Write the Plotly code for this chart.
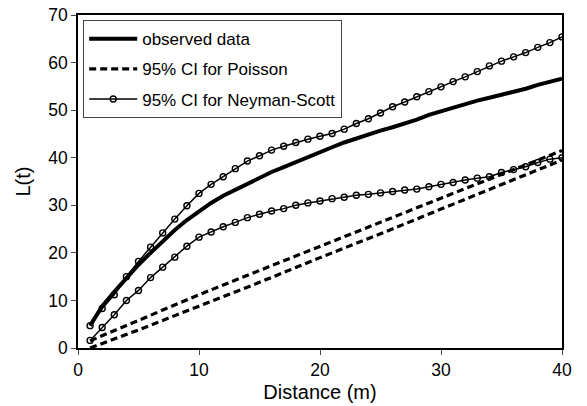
import plotly.graph_objects as go

# Data
dist = list(range(1, 41))
observed = [4.7, 8.8, 11.8, 14.8, 17.5, 20.0, 22.5, 24.8, 26.9, 28.8,
            30.5, 32.0, 33.3, 34.6, 35.8, 37.0, 38.0, 39.1, 40.2, 41.2,
            42.2, 43.2, 44.1, 45.0, 45.7, 46.4, 47.1, 48.0, 49.0, 49.8,
            50.5, 51.2, 52.0, 52.6, 53.2, 53.8, 54.5, 55.3, 56.0, 56.6]
ns_upper = [4.7, 8.3, 11.2, 15.0, 18.2, 21.2, 24.2, 27.1, 29.9, 32.5,
            34.4, 36.0, 37.7, 39.3, 40.4, 41.6, 42.4, 43.2, 43.9, 44.5,
            45.1, 46.0, 47.2, 48.2, 49.4, 50.7, 51.7, 52.8, 53.9, 54.9,
            56.0, 57.0, 58.1, 59.3, 60.3, 61.2, 62.1, 63.2, 64.2, 65.4]
ns_lower = [1.6, 4.3, 7.0, 10.0, 12.1, 14.8, 17.0, 19.1, 21.4, 23.3,
            24.4, 25.5, 26.4, 27.4, 28.1, 28.8, 29.3, 30.0, 30.5, 30.9,
            31.4, 31.7, 32.1, 32.3, 32.6, 32.9, 33.2, 33.4, 33.9, 34.4,
            34.8, 35.3, 35.7, 36.0, 36.9, 37.5, 38.1, 39.0, 39.7, 40.0]
pois_x = [1, 5, 10, 15, 20, 25, 30, 35, 40]
pois_upper = [1.5, 5.8, 11.2, 16.3, 21.4, 26.5, 31.5, 36.5, 41.5]
pois_lower = [0.0, 3.8, 8.8, 13.8, 19.0, 24.0, 29.2, 34.4, 39.5]

x_ticks = [0, 10, 20, 30, 40]
y_ticks = [0, 10, 20, 30, 40, 50, 60, 70]

FONT = "Liberation Sans, Arial, Helvetica, sans-serif"

marker_style = dict(symbol="circle-open", size=6, color="black", line=dict(width=1.4))

fig = go.Figure()
fig.add_trace(go.Scatter(x=dist, y=observed, mode="lines", name="observed data",
                         line=dict(color="black", width=4), legendgroup="a"))
fig.add_trace(go.Scatter(x=pois_x, y=pois_upper, mode="lines", name="95% CI for Poisson",
                         line=dict(color="black", width=3.2, dash="7px,4px"), legendgroup="b"))
fig.add_trace(go.Scatter(x=pois_x, y=pois_lower, mode="lines", name="95% CI for Poisson",
                         line=dict(color="black", width=3.2, dash="7px,4px"), legendgroup="b",
                         showlegend=False))
fig.add_trace(go.Scatter(x=dist, y=ns_upper, mode="lines+markers", name="95% CI for Neyman-Scott",
                         line=dict(color="black", width=1.5), marker=marker_style,
                         legendgroup="c"))
fig.add_trace(go.Scatter(x=dist, y=ns_lower, mode="lines+markers", name="95% CI for Neyman-Scott",
                         line=dict(color="black", width=1.5), marker=marker_style,
                         legendgroup="c", showlegend=False))

fig.update_layout(
    width=587, height=406,
    margin=dict(l=78, r=25, t=15, b=58, autoexpand=False),
    paper_bgcolor="white", plot_bgcolor="white",
    font=dict(family=FONT, size=17, color="black"),
    showlegend=True,
    legend=dict(x=0.0103, y=0.985, xanchor="left", yanchor="top",
                bgcolor="white", bordercolor="#444", borderwidth=1.2,
                font=dict(size=17), traceorder="grouped", tracegroupgap=5,
                itemwidth=48),
    xaxis=dict(range=[0, 40], tickvals=x_ticks, ticks="outside", ticklen=5,
               showline=True, linecolor="black", linewidth=1.5, mirror=True,
               showgrid=False, zeroline=False, automargin=False,
               title=dict(text="Distance (m)", font=dict(size=20), standoff=6),
               tickfont=dict(size=17.5)),
    yaxis=dict(range=[0, 70], tickvals=y_ticks, ticks="outside", ticklen=5,
               showline=True, linecolor="black", linewidth=1.5, mirror=True,
               showgrid=False, zeroline=False, automargin=False,
               title=dict(text="L(t)", font=dict(size=20), standoff=12),
               tickfont=dict(size=17.5)),
)

fig.write_html("out.html",
               config={"displayModeBar": False},
               post_script="document.body.style.margin='0';document.body.style.overflow='hidden';")
